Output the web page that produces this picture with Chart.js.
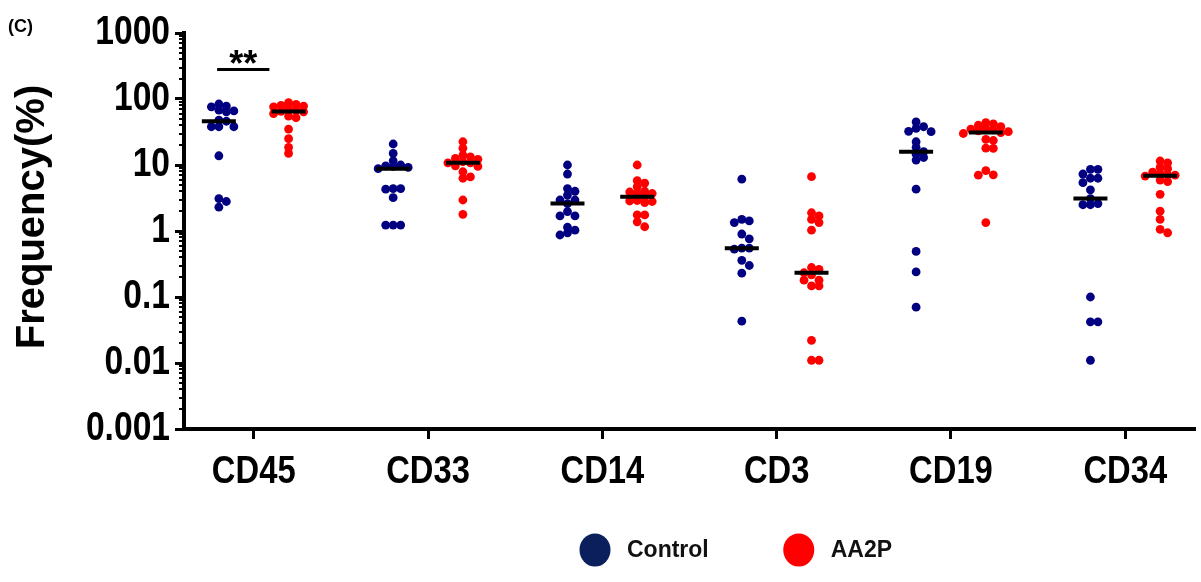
<!DOCTYPE html>
<html>
<head>
<meta charset="utf-8">
<script src="https://cdn.jsdelivr.net/npm/chart.js@4.4.0/dist/chart.umd.min.js"></script>
<style>
  html, body { margin: 0; padding: 0; background: #ffffff; }
  #wrap { width: 1201px; height: 582px; position: relative; }
</style>
</head>
<body>
<div id="wrap"><canvas id="c" width="1201" height="582"></canvas></div>
<script>
// ---------------- DATA ----------------
const categories = ['CD45', 'CD33', 'CD14', 'CD3', 'CD19', 'CD34'];
const seriesNames = ['Control', 'AA2P'];
const yTickLabels = ['0.001', '0.01', '0.1', '1', '10', '100', '1000'];

const controlCD45 = [84, 78, 76, 68, 66, 64, 48, 46, 38, 38, 38, 13.8, 3.1, 2.8, 2.3];
const controlCD33 = [20.8, 15, 11.6, 10, 9.7, 9.5, 9.2, 8.8, 4.4, 4.4, 4.3, 3.2, 1.23, 1.23, 1.23];
const controlCD14 = [10, 7.3, 4.4, 4.0, 3.5, 2.95, 2.95, 2.6, 1.96, 1.69, 1.69, 1.14, 1.03, 0.94, 0.87];
const controlCD3  = [6.1, 1.5, 1.42, 1.34, 0.9, 0.76, 0.55, 0.55, 0.53, 0.36, 0.3, 0.23, 0.043];
const controlCD19 = [45, 38, 36, 32.4, 32, 22.5, 18.5, 15.9, 14.6, 13, 11.9, 4.3, 0.49, 0.24, 0.07];
const controlCD34 = [8.6, 8.6, 7.3, 6.3, 6.3, 5.4, 4.2, 3.1, 2.6, 2.5, 2.5, 0.1, 0.042, 0.042, 0.011];

const aa2pCD45 = [88, 83, 80, 78, 76, 72, 68, 65, 64, 60, 55, 52, 35, 25, 18.5, 15];
const aa2pCD33 = [22.5, 17.9, 14.1, 13.3, 12.6, 12.2, 11.2, 10.8, 10.8, 9.7, 9.5, 7.9, 6.6, 6.3, 2.95, 1.79];
const aa2pCD14 = [10, 5.8, 5.3, 4.7, 4.0, 3.9, 3.8, 3.7, 3.3, 2.9, 2.85, 2.8, 2.7, 1.75, 1.75, 1.38, 1.16];
const aa2pCD3  = [6.65, 1.89, 1.69, 1.5, 1.34, 1.03, 0.28, 0.263, 0.233, 0.216, 0.18, 0.18, 0.147, 0.147, 0.022, 0.011, 0.011];
const aa2pCD19 = [44, 42, 40, 38, 36, 35, 34, 33, 32, 31, 30, 24.5, 23.5, 18, 17.8, 8.2, 7.1, 7.0, 1.34];
const aa2pCD34 = [11.5, 10.8, 9.2, 8.8, 7.8, 7.4, 7.1, 7.0, 6.8, 5.9, 5.6, 3.6, 2.0, 1.5, 1.06, 0.94];

const controlValues = [controlCD45, controlCD33, controlCD14, controlCD3, controlCD19, controlCD34];
const aa2pValues = [aa2pCD45, aa2pCD33, aa2pCD14, aa2pCD3, aa2pCD19, aa2pCD34];

const significanceCategory = 'CD45';
const significanceLabel = '**';

// ---------------- STYLE ----------------
const WIDE = '"Liberation Sans", Arial, Helvetica, sans-serif';
const pointColors = ['#000080', '#ff0000'];
const legendColors = ['#0b1f5c', '#ff0000'];
const groupOffsets = [-0.2, 0.2];
const CONDENSE = 0.84;

function median(arr) {
  const s = arr.slice().sort((a, b) => a - b);
  const n = s.length;
  return n % 2 ? s[(n - 1) / 2] : (s[n / 2 - 1] + s[n / 2]) / 2;
}
function isDecade(v) {
  const l = Math.log10(v);
  return Math.abs(l - Math.round(l)) < 1e-6;
}
function decadeLabel(v) {
  for (const t of yTickLabels) {
    if (Math.abs(Number(t) - v) / Number(t) < 1e-6) return t;
  }
  return '';
}
const yTickValues = [];
yTickLabels.forEach((t, i) => {
  const d = Number(t);
  yTickValues.push(d);
  if (i < yTickLabels.length - 1) {
    for (let m = 2; m <= 9; m++) yTickValues.push(m * d);
  }
});

const allSeries = [controlValues, aa2pValues];
const datasets = allSeries.map((groups, si) => ({
  label: seriesNames[si],
  data: groups.flatMap((vals, ci) => vals.map(v => ({ x: ci + groupOffsets[si], y: v }))),
  backgroundColor: pointColors[si],
  borderColor: pointColors[si],
  borderWidth: 0,
  pointRadius: 4.4,
  pointHoverRadius: 4.4
}));

// ---------------- PLUGINS ----------------
const condensePlugin = {
  id: 'condense',
  beforeDraw(chart) {
    const ctx = chart.ctx;
    ['x', 'y'].forEach(id => {
      const s = chart.scales[id];
      const items = s.getLabelItems(chart.chartArea);
      items.forEach(it => {
        if (!it.label) return;
        ctx.save();
        ctx.font = it.font.string;
        const w = ctx.measureText(it.label).width;
        ctx.restore();
        it.options.maxWidth = w * CONDENSE;
      });
    });
  }
};

const minorTicksPlugin = {
  id: 'minorTicks',
  afterDraw(chart) {
    const ys = chart.scales.y;
    const ctx = chart.ctx;
    ctx.save();
    ctx.strokeStyle = '#000';
    ctx.lineWidth = 2;
    yTickValues.forEach(v => {
      if (isDecade(v)) return;
      const py = Math.round(ys.getPixelForValue(v));
      ctx.beginPath();
      ctx.moveTo(ys.right - 5, py);
      ctx.lineTo(ys.right, py);
      ctx.stroke();
    });
    ctx.restore();
  }
};

const medianPlugin = {
  id: 'medians',
  afterDatasetsDraw(chart) {
    const xs = chart.scales.x, ys = chart.scales.y;
    const ctx = chart.ctx;
    ctx.save();
    ctx.strokeStyle = '#000';
    ctx.lineWidth = 4;
    allSeries.forEach((groups, si) => {
      groups.forEach((vals, ci) => {
        const cx = xs.getPixelForValue(ci + groupOffsets[si]);
        const py = ys.getPixelForValue(median(vals));
        ctx.beginPath();
        ctx.moveTo(cx - 17, py);
        ctx.lineTo(cx + 17, py);
        ctx.stroke();
      });
    });
    ctx.restore();
  }
};

const annotationPlugin = {
  id: 'annot',
  afterDraw(chart) {
    const xs = chart.scales.x, ys = chart.scales.y;
    const ctx = chart.ctx;
    const ci = categories.indexOf(significanceCategory);
    const x1 = xs.getPixelForValue(ci + groupOffsets[0] - 0.01);
    const x2 = xs.getPixelForValue(ci + groupOffsets[1] - 0.11);
    const yb = ys.getPixelForValue(280);
    ctx.save();
    ctx.strokeStyle = '#000';
    ctx.lineWidth = 3;
    ctx.beginPath();
    ctx.moveTo(x1, yb);
    ctx.lineTo(x2, yb);
    ctx.stroke();
    ctx.fillStyle = '#000';
    ctx.font = 'bold 36px ' + WIDE;
    ctx.textAlign = 'center';
    ctx.textBaseline = 'alphabetic';
    ctx.fillText(significanceLabel, (x1 + x2) / 2, yb + 7);

    // panel letter
    ctx.font = 'bold 18px ' + WIDE;
    ctx.textAlign = 'left';
    ctx.textBaseline = 'middle';
    ctx.fillText('(C)', 8, 27);

    // y-axis title
    ctx.save();
    ctx.translate(33, 217);
    ctx.rotate(-Math.PI / 2);
    ctx.font = 'bold 40px ' + WIDE;
    ctx.textAlign = 'center';
    ctx.textBaseline = 'middle';
    ctx.fillText('Frequency(%)', 0, 0);
    ctx.restore();

    // legend
    ctx.font = 'bold 23px ' + WIDE;
    ctx.textAlign = 'left';
    ctx.textBaseline = 'middle';
    let cx = 595;
    const cy = 550;
    seriesNames.forEach((name, si) => {
      ctx.fillStyle = legendColors[si];
      ctx.beginPath();
      ctx.ellipse(cx, cy, 15.5, 16.5, 0, 0, Math.PI * 2);
      ctx.fill();
      ctx.fillStyle = '#111';
      const tx = cx + 32;
      ctx.fillText(name, tx, cy + 1);
      cx = tx + ctx.measureText(name).width + 90;
    });
    ctx.restore();
  }
};

// ---------------- CHART ----------------
const chart = new Chart(document.getElementById('c'), {
  type: 'scatter',
  data: { datasets },
  options: {
    responsive: false,
    animation: false,
    devicePixelRatio: 1,
    layout: { padding: { left: 0, top: 33, right: 6, bottom: 0 } },
    plugins: { legend: { display: false }, tooltip: { enabled: false } },
    scales: {
      x: {
        type: 'linear',
        min: -0.4,
        max: 5.4,
        afterBuildTicks: s => { s.ticks = categories.map((c, i) => ({ value: i })); },
        afterFit: s => { s.height = 153; },
        ticks: {
          autoSkip: false,
          maxRotation: 0,
          callback: v => categories[v] !== undefined ? categories[v] : '',
          font: { family: WIDE, size: 39, weight: 'bold' },
          color: '#000',
          padding: 10
        },
        grid: { drawOnChartArea: false, drawTicks: true, tickLength: 10, tickWidth: 3, tickColor: '#000' },
        border: { display: true, color: '#000', width: 4 }
      },
      y: {
        type: 'logarithmic',
        min: 0.001,
        max: 1000,
        afterBuildTicks: s => { s.ticks = yTickValues.map(v => ({ value: v, major: isDecade(v) })); },
        afterFit: s => { s.width = 184; },
        ticks: {
          autoSkip: false,
          callback: v => isDecade(v) ? decadeLabel(v) : '',
          font: { family: WIDE, size: 40, weight: 'bold' },
          color: '#000',
          padding: 5
        },
        grid: {
          drawOnChartArea: false,
          drawTicks: true,
          tickLength: 9,
          tickWidth: 3,
          tickColor: c => (c.tick && isDecade(c.tick.value)) ? '#000' : 'rgba(0,0,0,0)'
        },
        border: { display: true, color: '#000', width: 4 }
      }
    }
  },
  plugins: [condensePlugin, minorTicksPlugin, medianPlugin, annotationPlugin]
});

// ---------------- BEESWARM LAYOUT (computed from values) ----------------
function applySwarm(ch) {
  const xs = ch.scales.x, ys = ch.scales.y;
  const COLLIDE = 5.5, STEP = 7.5;
  ch.data.datasets.forEach((ds, si) => {
    const pts = [];
    allSeries[si].forEach((vals, ci) => {
      const cx = xs.getPixelForValue(ci + groupOffsets[si]);
      const items = vals.map(v => ({ v, py: ys.getPixelForValue(v) })).sort((a, b) => a.py - b.py);
      const placed = [];
      items.forEach(it => {
        let px = cx;
        for (let k = 0; k < 60; k++) {
          const off = k === 0 ? 0 : (k % 2 ? 1 : -1) * Math.ceil(k / 2) * STEP;
          const cand = cx + off;
          const hit = placed.some(p => (p.x - cand) ** 2 + (p.y - it.py) ** 2 < COLLIDE * COLLIDE);
          if (!hit) { px = cand; break; }
        }
        placed.push({ x: px, y: it.py });
        pts.push({ x: xs.getValueForPixel(px), y: it.v });
      });
    });
    ds.data = pts;
  });
  ch.update('none');
}
applySwarm(chart);
</script>
</body>
</html>
